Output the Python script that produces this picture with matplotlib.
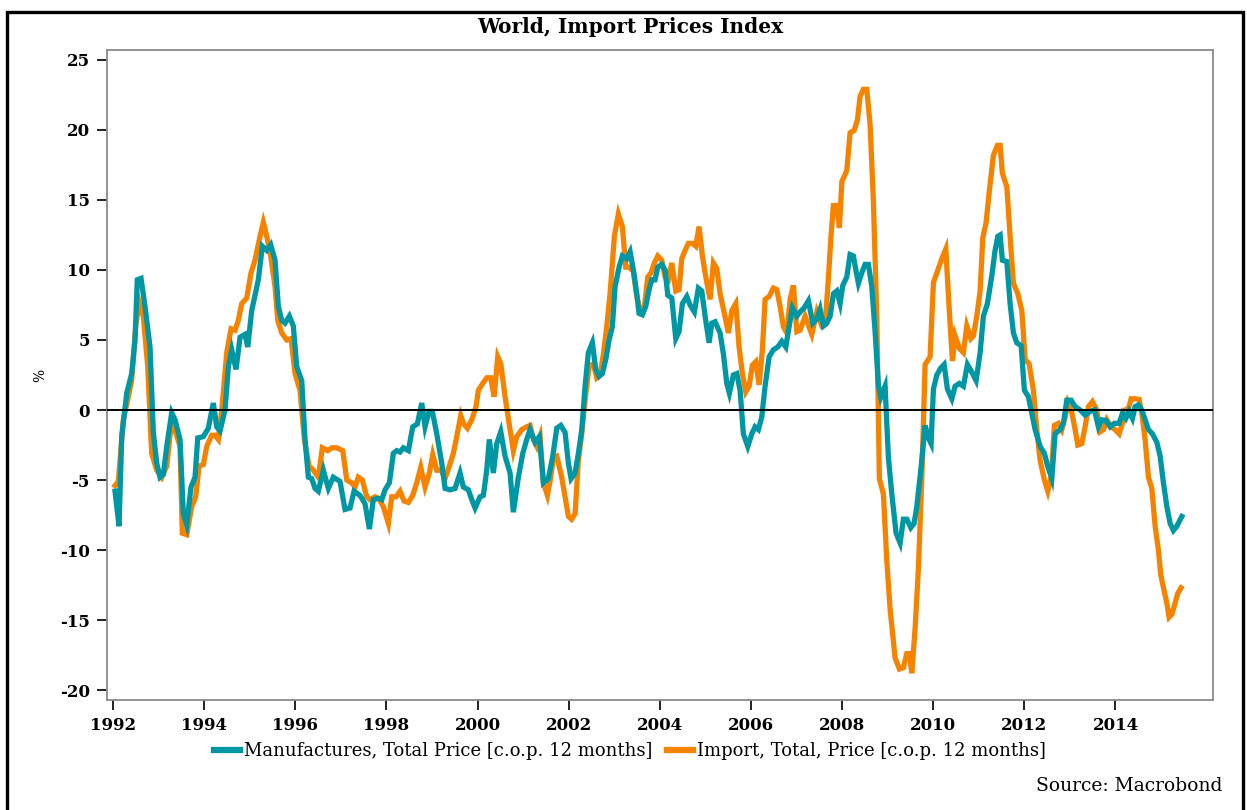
import matplotlib
matplotlib.use("Agg")
import matplotlib.pyplot as plt
from matplotlib.patches import Rectangle
from matplotlib.lines import Line2D

# ---- data (decimal year, % change over 12 months) ----
manuf_years = [
    1992.044, 1992.132, 1992.191, 1992.301, 1992.410, 1992.483, 1992.533, 1992.615, 1992.702, 1992.812,
    1992.885, 1992.959, 1993.032, 1993.104, 1993.179, 1993.288, 1993.361, 1993.471, 1993.543, 1993.618,
    1993.712, 1993.800, 1993.859, 1993.982, 1994.092, 1994.201, 1994.276, 1994.349, 1994.458, 1994.531,
    1994.605, 1994.700, 1994.788, 1994.897, 1994.957, 1995.044, 1995.189, 1995.277, 1995.374, 1995.461,
    1995.556, 1995.628, 1995.703, 1995.775, 1995.870, 1995.957, 1996.032, 1996.142, 1996.214, 1996.287,
    1996.361, 1996.434, 1996.506, 1996.616, 1996.726, 1996.835, 1996.982, 1997.092, 1997.202, 1997.290,
    1997.421, 1997.531, 1997.626, 1997.713, 1997.823, 1997.898, 1997.970, 1998.065, 1998.152, 1998.227,
    1998.299, 1998.372, 1998.482, 1998.578, 1998.679, 1998.776, 1998.848, 1998.936, 1999.008, 1999.105,
    1999.215, 1999.287, 1999.397, 1999.507, 1999.616, 1999.689, 1999.799, 1999.873, 1999.946, 2000.055,
    2000.128, 2000.202, 2000.259, 2000.347, 2000.422, 2000.510, 2000.604, 2000.714, 2000.786, 2000.896,
    2000.993, 2001.080, 2001.153, 2001.262, 2001.357, 2001.445, 2001.554, 2001.651, 2001.739, 2001.827,
    2001.921, 2001.994, 2002.053, 2002.141, 2002.213, 2002.288, 2002.360, 2002.432, 2002.520, 2002.595,
    2002.667, 2002.740, 2002.814, 2002.887, 2002.959, 2003.018, 2003.106, 2003.179, 2003.275, 2003.348,
    2003.420, 2003.495, 2003.545, 2003.618, 2003.692, 2003.765, 2003.824, 2003.896, 2003.956, 2004.043,
    2004.116, 2004.175, 2004.263, 2004.351, 2004.423, 2004.496, 2004.592, 2004.665, 2004.759, 2004.847,
    2004.921, 2004.994, 2005.082, 2005.141, 2005.213, 2005.323, 2005.396, 2005.470, 2005.527, 2005.615,
    2005.690, 2005.762, 2005.834, 2005.931, 2006.019, 2006.091, 2006.164, 2006.238, 2006.311, 2006.399,
    2006.493, 2006.589, 2006.677, 2006.765, 2006.838, 2006.910, 2007.007, 2007.079, 2007.167, 2007.261,
    2007.358, 2007.446, 2007.518, 2007.591, 2007.665, 2007.738, 2007.810, 2007.884, 2007.957, 2008.016,
    2008.104, 2008.176, 2008.249, 2008.308, 2008.359, 2008.433, 2008.506, 2008.578, 2008.653, 2008.725,
    2008.797, 2008.850, 2008.944, 2009.017, 2009.092, 2009.186, 2009.274, 2009.346, 2009.421, 2009.509,
    2009.581, 2009.640, 2009.728, 2009.823, 2009.895, 2009.954, 2010.005, 2010.080, 2010.167, 2010.240,
    2010.312, 2010.409, 2010.481, 2010.575, 2010.663, 2010.751, 2010.848, 2010.942, 2011.030, 2011.102,
    2011.190, 2011.287, 2011.359, 2011.418, 2011.469, 2011.519, 2011.616, 2011.688, 2011.761, 2011.835,
    2011.930, 2012.002, 2012.090, 2012.165, 2012.237, 2012.347, 2012.441, 2012.516, 2012.603, 2012.676,
    2012.786, 2012.858, 2012.933, 2013.027, 2013.115, 2013.225, 2013.334, 2013.444, 2013.539, 2013.626,
    2013.701, 2013.795, 2013.883, 2013.978, 2014.081, 2014.153, 2014.228, 2014.300, 2014.373, 2014.432,
    2014.504, 2014.579, 2014.651, 2014.724, 2014.811, 2014.908, 2014.981, 2015.053, 2015.128, 2015.200,
    2015.273, 2015.347, 2015.457,
]
manuf_values = [
    -5.8, -8.3, -1.9, 1.2, 2.6, 5.0, 9.3, 9.4, 7.4, 4.5,
    -1.6, -3.8, -4.8, -4.6, -2.6, -0.2, -0.7, -2.1, -7.4, -8.2,
    -5.5, -4.8, -2.0, -1.9, -1.3, 0.5, -1.2, -1.5, 0.0, 3.1,
    4.3, 2.9, 5.2, 5.4, 4.5, 7.1, 9.3, 11.7, 11.4, 11.8,
    10.7, 7.4, 6.4, 6.2, 6.7, 6.0, 3.1, 2.1, -2.1, -4.8,
    -4.9, -5.6, -5.8, -4.3, -5.6, -4.8, -5.1, -7.1, -7.0, -5.8,
    -6.1, -6.7, -8.5, -6.4, -6.3, -6.4, -5.7, -5.2, -3.1, -2.9,
    -3.0, -2.7, -2.9, -1.2, -1.0, 0.5, -1.2, -0.1, -0.1, -1.7,
    -3.8, -5.6, -5.7, -5.6, -4.5, -5.5, -5.7, -6.4, -7.0, -6.2,
    -6.1, -4.3, -2.1, -4.5, -2.4, -1.55, -3.3, -4.5, -7.3, -4.8,
    -3.1, -2.1, -1.4, -2.3, -1.9, -5.2, -4.9, -3.3, -1.3, -1.1,
    -1.6, -3.8, -4.9, -4.5, -3.1, -1.4, 1.7, 4.1, 4.8, 2.9,
    2.4, 2.6, 3.6, 5.0, 5.95, 8.8, 10.2, 11.0, 10.8, 11.3,
    10.0, 8.3, 6.9, 6.8, 7.4, 8.6, 9.3, 9.3, 10.2, 10.4,
    10.0, 8.2, 8.0, 5.1, 5.6, 7.6, 8.1, 7.5, 7.0, 8.7,
    8.5, 6.7, 4.8, 6.2, 6.3, 5.5, 4.0, 1.9, 1.2, 2.5,
    2.6, 1.4, -1.7, -2.6, -1.7, -1.2, -1.4, -0.5, 1.7, 3.8,
    4.3, 4.5, 4.9, 4.5, 5.95, 7.3, 6.7, 7.0, 7.3, 7.8,
    6.2, 6.5, 7.2, 6.0, 6.2, 6.7, 8.3, 8.5, 7.6, 8.9,
    9.5, 11.1, 11.0, 9.9, 9.05, 9.8, 10.4, 10.4, 8.8, 5.6,
    1.8, 0.9, 1.7, -3.4, -6.0, -8.8, -9.5, -7.8, -7.8, -8.4,
    -8.1, -6.9, -4.3, -1.1, -2.0, -2.4, 1.5, 2.5, 3.0, 3.25,
    1.5, 0.8, 1.7, 1.9, 1.7, 3.25, 2.7, 2.1, 4.1, 6.7,
    7.6, 9.6, 11.4, 12.4, 12.5, 10.7, 10.6, 7.6, 5.5, 4.8,
    4.6, 1.4, 0.95, -0.24, -1.4, -2.6, -3.1, -4.05, -4.9, -1.7,
    -1.4, -0.95, 0.7, 0.7, 0.24, 0.0, -0.36, -0.1, 0.0, -1.2,
    -0.7, -0.76, -1.2, -0.95, -0.95, -0.24, -0.6, -0.1, -0.6, 0.24,
    0.36, 0.0, -0.7, -1.4, -1.7, -2.3, -3.3, -5.2, -6.9, -8.1,
    -8.6, -8.3, -7.6,
]

import_years = [
    1992.044, 1992.116, 1992.226, 1992.336, 1992.410, 1992.498, 1992.577, 1992.665, 1992.762, 1992.849,
    1992.959, 1993.069, 1993.179, 1993.288, 1993.376, 1993.471, 1993.521, 1993.618, 1993.727, 1993.815,
    1993.888, 1993.982, 1994.057, 1994.166, 1994.239, 1994.311, 1994.386, 1994.496, 1994.590, 1994.678,
    1994.750, 1994.825, 1994.935, 1995.029, 1995.117, 1995.227, 1995.299, 1995.374, 1995.461, 1995.556,
    1995.615, 1995.703, 1995.813, 1995.907, 1995.995, 1996.104, 1996.199, 1996.302, 1996.396, 1996.506,
    1996.594, 1996.712, 1996.800, 1996.910, 1997.042, 1997.130, 1997.239, 1997.312, 1997.384, 1997.472,
    1997.568, 1997.641, 1997.751, 1997.845, 1997.933, 1998.043, 1998.117, 1998.212, 1998.299, 1998.387,
    1998.482, 1998.578, 1998.666, 1998.754, 1998.848, 1998.943, 1999.017, 1999.105, 1999.199, 1999.287,
    1999.381, 1999.469, 1999.544, 1999.632, 1999.689, 1999.777, 1999.873, 1999.967, 2000.018, 2000.115,
    2000.202, 2000.290, 2000.363, 2000.444, 2000.510, 2000.604, 2000.692, 2000.786, 2000.861, 2000.971,
    2001.080, 2001.153, 2001.225, 2001.300, 2001.372, 2001.445, 2001.533, 2001.607, 2001.664, 2001.739,
    2001.848, 2001.921, 2001.994, 2002.064, 2002.141, 2002.213, 2002.288, 2002.360, 2002.448, 2002.542,
    2002.617, 2002.689, 2002.762, 2002.836, 2002.909, 2003.003, 2003.091, 2003.179, 2003.253, 2003.326,
    2003.420, 2003.495, 2003.567, 2003.662, 2003.736, 2003.809, 2003.881, 2003.956, 2004.043, 2004.116,
    2004.188, 2004.263, 2004.351, 2004.423, 2004.482, 2004.555, 2004.627, 2004.715, 2004.790, 2004.862,
    2004.935, 2005.009, 2005.104, 2005.176, 2005.251, 2005.323, 2005.417, 2005.505, 2005.580, 2005.668,
    2005.740, 2005.813, 2005.887, 2005.960, 2006.032, 2006.107, 2006.179, 2006.252, 2006.311, 2006.399,
    2006.493, 2006.567, 2006.640, 2006.712, 2006.787, 2006.860, 2006.932, 2007.007, 2007.079, 2007.189,
    2007.336, 2007.446, 2007.556, 2007.628, 2007.700, 2007.759, 2007.810, 2007.884, 2007.942, 2007.995,
    2008.104, 2008.176, 2008.264, 2008.337, 2008.396, 2008.468, 2008.543, 2008.615, 2008.688, 2008.762,
    2008.819, 2008.907, 2008.981, 2009.054, 2009.164, 2009.259, 2009.346, 2009.421, 2009.478, 2009.531,
    2009.603, 2009.676, 2009.750, 2009.823, 2009.932, 2010.005, 2010.093, 2010.189, 2010.277, 2010.350,
    2010.422, 2010.481, 2010.575, 2010.663, 2010.738, 2010.826, 2010.883, 2010.957, 2011.030, 2011.089,
    2011.162, 2011.234, 2011.322, 2011.410, 2011.469, 2011.519, 2011.616, 2011.688, 2011.761, 2011.857,
    2011.945, 2012.018, 2012.105, 2012.200, 2012.274, 2012.347, 2012.441, 2012.516, 2012.588, 2012.661,
    2012.748, 2012.823, 2012.896, 2012.955, 2013.043, 2013.115, 2013.174, 2013.262, 2013.334, 2013.407,
    2013.495, 2013.591, 2013.664, 2013.736, 2013.811, 2013.905, 2013.993, 2014.081, 2014.153, 2014.212,
    2014.285, 2014.344, 2014.432, 2014.520, 2014.579, 2014.651, 2014.724, 2014.798, 2014.871, 2014.943,
    2014.996, 2015.068, 2015.128, 2015.178, 2015.237, 2015.309, 2015.367, 2015.440,
]
import_values = [
    -5.4, -5.1, -0.7, 0.95, 2.1, 6.0, 7.7, 6.7, 3.1, -3.1,
    -4.3, -4.8, -4.0, -0.7, -1.6, -2.6, -8.8, -8.9, -6.9, -6.2,
    -4.0, -3.9, -2.6, -1.8, -1.8, -2.1, 0.0, 4.1, 5.8, 5.7,
    6.4, 7.6, 8.0, 9.8, 10.7, 12.4, 13.4, 12.4, 11.0, 8.8,
    6.4, 5.5, 5.0, 5.1, 2.6, 1.4, -2.1, -4.0, -4.3, -4.8,
    -2.7, -2.9, -2.7, -2.7, -2.9, -5.0, -5.2, -5.5, -4.8, -5.0,
    -6.2, -6.4, -6.2, -6.4, -6.9, -8.1, -6.2, -6.2, -5.8, -6.5,
    -6.6, -6.1, -5.2, -4.1, -5.5, -4.5, -3.2, -4.3, -4.3, -4.9,
    -4.0, -3.1, -1.9, -0.4, -0.95, -1.3, -0.7, 0.24, 1.4, 1.9,
    2.3, 2.3, 0.95, 3.8, 3.3, 0.95, -0.95, -2.9, -1.9, -1.4,
    -1.2, -1.1, -2.1, -2.6, -1.9, -5.2, -6.1, -4.8, -3.4, -3.3,
    -4.8, -6.2, -7.6, -7.8, -7.4, -3.6, -1.7, 0.7, 3.1, 3.3,
    2.3, 2.5, 4.0, 5.95, 8.3, 12.4, 14.0, 13.1, 10.2, 10.2,
    9.9, 8.1, 7.1, 7.4, 9.5, 9.8, 10.5, 11.0, 10.7, 9.5,
    9.3, 10.5, 8.5, 8.6, 10.8, 11.4, 11.9, 11.9, 11.7, 13.1,
    11.0, 9.5, 7.9, 10.5, 10.1, 8.3, 6.9, 5.5, 7.1, 7.6,
    4.5, 2.6, 1.3, 1.7, 3.2, 3.45, 1.8, 4.3, 7.9, 8.1,
    8.7, 8.6, 7.4, 5.95, 5.5, 7.9, 8.9, 5.6, 5.7, 6.7,
    5.4, 7.0, 6.0, 6.1, 9.4, 12.5, 14.6, 14.6, 13.0, 16.3,
    17.1, 19.8, 19.96, 20.7, 22.4, 22.9, 22.9, 20.4, 14.9, 6.7,
    -4.9, -6.0, -10.7, -14.2, -17.7, -18.5, -18.4, -17.4, -17.4, -18.8,
    -15.6, -11.3, -4.9, 3.25, 3.8, 9.1, 9.9, 10.8, 11.5, 7.3,
    3.5, 5.3, 4.4, 4.1, 6.0, 5.1, 5.3, 6.7, 8.5, 12.3,
    13.4, 15.7, 18.2, 18.9, 18.9, 16.9, 15.95, 12.4, 9.05, 8.3,
    7.1, 3.6, 3.3, 1.4, -1.4, -3.6, -5.0, -5.8, -4.8, -1.1,
    -0.95, -1.4, -0.5, 0.5, -0.2, -1.4, -2.5, -2.4, -1.2, 0.24,
    0.6, 0.0, -1.55, -1.4, -0.7, -1.2, -1.4, -1.7, -0.95, 0.0,
    0.1, 0.8, 0.8, 0.76, -0.24, -2.1, -4.8, -5.6, -8.3, -10.0,
    -11.8, -12.9, -13.8, -14.8, -14.6, -13.8, -13.1, -12.7,
]

series_labels = ["Manufactures, Total Price [c.o.p. 12 months]",
                 "Import, Total, Price [c.o.p. 12 months]"]
x_ticks = [1992, 1994, 1996, 1998, 2000, 2002, 2004, 2006, 2008, 2010, 2012, 2014]
y_ticks = [-20, -15, -10, -5, 0, 5, 10, 15, 20, 25]

TEAL = "#0097A5"
ORANGE = "#F58300"
SERIF = ["DejaVu Serif"]

fig = plt.figure(figsize=(12.47, 8.10), dpi=100)
ax = fig.add_axes([106.5 / 1247, 1 - 700 / 810, (1212.5 - 106.5) / 1247, 650 / 810])

ax.plot(manuf_years, manuf_values, color=TEAL, lw=3.8, solid_joinstyle="miter", zorder=3)
ax.plot(import_years, import_values, color=ORANGE, lw=3.8, solid_joinstyle="miter", zorder=2)
ax.axhline(0, color="black", lw=1.4, zorder=4)

ax.set_xlim(1991.857, 2016.13)
ax.set_ylim(-20.71, 25.71)
ax.set_xticks(x_ticks)
ax.set_yticks(y_ticks)
ax.set_xticklabels([str(t) for t in x_ticks], fontfamily=SERIF, fontweight="bold", fontsize=12)
ax.set_yticklabels([str(t) for t in y_ticks], fontfamily=SERIF, fontweight="bold", fontsize=12)
ax.tick_params(axis="both", direction="out", length=7, width=1.3, color="#111111", pad=5)
for s in ax.spines.values():
    s.set_color("#8a8a8a")
    s.set_linewidth(1.3)

fig.text(630 / 1247, 1 - 27 / 810, "World, Import Prices Index", ha="center", va="center",
         fontfamily=SERIF, fontweight="bold", fontsize=14.5)
fig.text(40 / 1247, 1 - 375 / 810, "%", rotation=90, ha="center", va="center",
         fontfamily=SERIF, fontsize=10)

handles = [Line2D([], [], color=TEAL, lw=4.5), Line2D([], [], color=ORANGE, lw=4.5)]
fig.legend(handles, series_labels, loc="center", bbox_to_anchor=(630 / 1247, 1 - 751 / 810), ncol=2,
           frameon=False, prop={"family": SERIF, "size": 13}, handlelength=1.45,
           handletextpad=0.22, columnspacing=0.8)

fig.text(1222 / 1247, 1 - 786 / 810, "Source: Macrobond", ha="right", va="center",
         fontfamily=SERIF, fontsize=13.5)

fig.patches.append(Rectangle((7 / 1247, -0.02), (1243 - 7) / 1247, 1.02 - 12 / 810,
                             transform=fig.transFigure, fill=False, edgecolor="black", lw=2.4))

fig.savefig("out.png", dpi=100)
